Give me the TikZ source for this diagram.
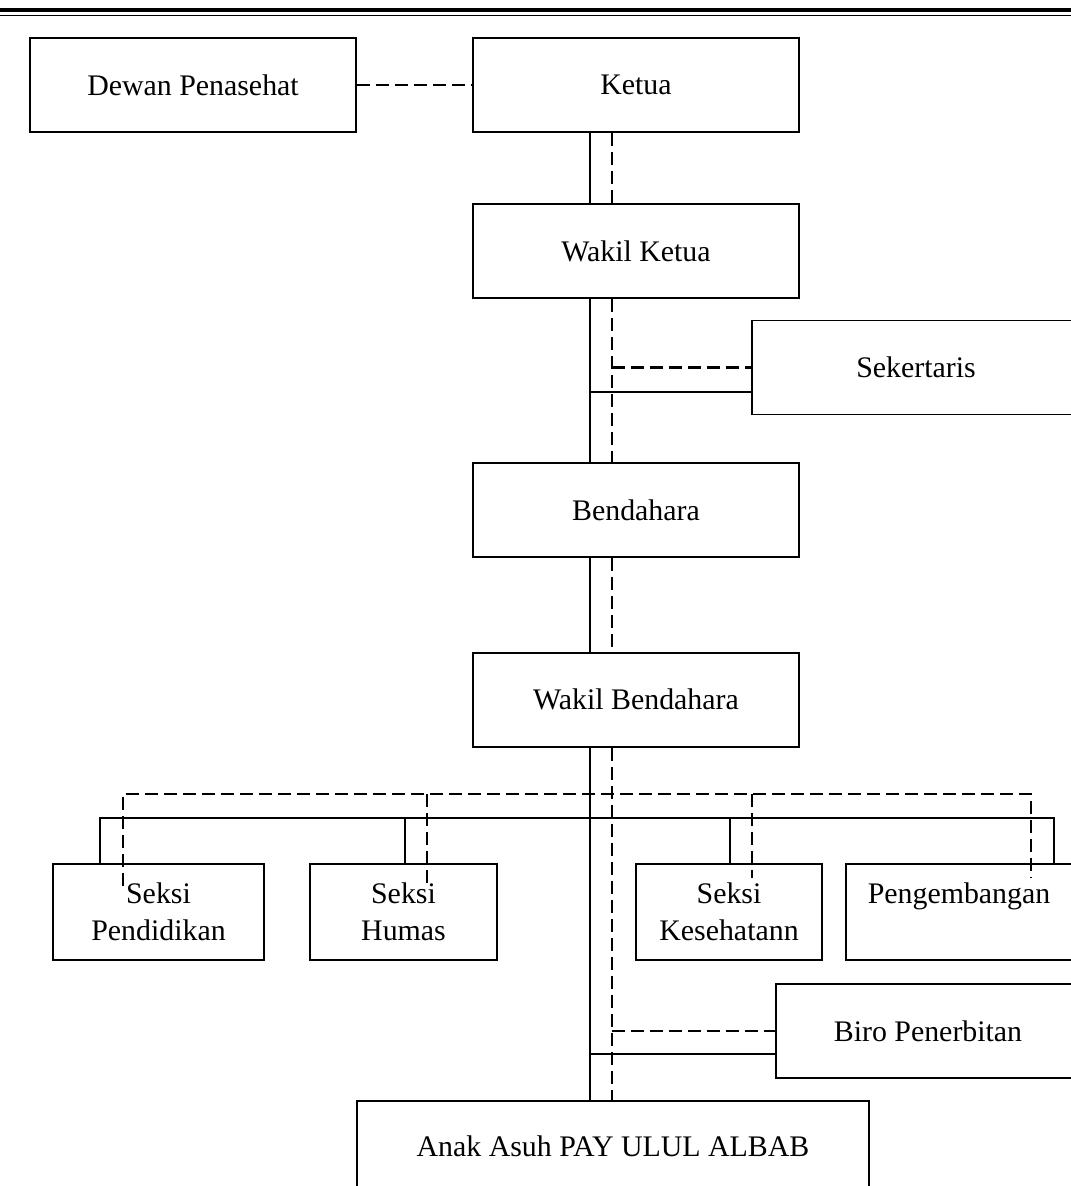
\documentclass[tikz,border=0pt]{standalone}
\usepackage{fontspec}
\setmainfont{Liberation Serif}
\usetikzlibrary{positioning}

\begin{document}
\begin{tikzpicture}[x=0.02cm, y=-0.02cm, node distance={15mm},
		main/.style = {draw, line width=1.1pt, inner sep=0pt, align=center, minimum width=6.52cm, minimum height=1.88cm, font=\fontsize{17}{21}\selectfont},
		sect/.style = {main, minimum height=1.92cm},
		sld/.style = {line width=1.1pt},
		dsh/.style = {line width=1.2pt, dash pattern=on 0.26cm off 0.12cm}]
			\useasboundingbox (0,0) rectangle (1071,1186);
			\clip (0,0) rectangle (1071,1186);
			% double rule on top
			\draw[line width=1.8pt] (0,10) -- (1071,10);
			\draw[line width=1.1pt] (0,15.5) -- (1071,15.5);
			% boxes
			\node[main] (dewan) at (193,85) {Dewan Penasehat};
			\node[main] (ketua) at (636,85) {Ketua};
			\node[main] (wketua) [below=1.40cm of ketua] {Wakil Ketua};
			\node[main, minimum width=6.56cm] (sekr) at (916,367.5) {Sekertaris};
			\node[main] (bendahara) [below=3.26cm of wketua] {Bendahara};
			\node[main] (wbendahara) [below=1.88cm of bendahara] {Wakil Bendahara};
			\node[sect, minimum width=4.22cm] (pend) at (158.5,912) {Seksi\\Pendidikan};
			\node[sect, minimum width=3.74cm] (humas) at (403.5,912) {Seksi\\Humas};
			\node[sect, minimum width=3.72cm] (kes) at (729,912) {Seksi\\Kesehatann};
			\node[sect, minimum width=4.52cm] (peng) at (959,912) {Pengembangan\\\mbox{}};
			\node[main, minimum width=6.08cm] (biro) at (928,1031) {Biro Penerbitan};
			\node[main, minimum width=10.24cm, minimum height=1.8cm] (anak) at (613,1146) {Anak Asuh PAY ULUL ALBAB};
			% spine
			\coordinate (sx) at (590,0);
			\coordinate (dx) at (612,0);
			\draw[dsh] (dewan) -- (ketua);
			\draw[sld] (ketua.south -| sx) -- (wketua.north -| sx);
			\draw[dsh] (ketua.south -| dx) -- (wketua.north -| dx);
			\draw[sld] (wketua.south -| sx) -- (bendahara.north -| sx);
			\draw[dsh] (wketua.south -| dx) -- (bendahara.north -| dx);
			\draw[sld] (bendahara.south -| sx) -- (wbendahara.north -| sx);
			\draw[dsh] (bendahara.south -| dx) -- (wbendahara.north -| dx);
			\draw[sld] (wbendahara.south -| sx) -- (anak.north -| sx);
			\draw[dsh] (wbendahara.south -| dx) -- (anak.north -| dx);
			% sekertaris
			\coordinate (sks) at (590,392);
			\draw[dsh] (sekr.west -| dx) -- (sekr.west);
			\draw[sld] (sks) -- (sks -| sekr.west);
			% seksi buses
			\coordinate (sb1) at (100,818);
			\coordinate (sb2) at (1054,818);
			\coordinate (hs) at (405,818);
			\coordinate (ks) at (730,818);
			\draw[sld] (pend.north -| sb1) -- (sb1) -- (sb2) -- (peng.north -| sb2);
			\draw[sld] (hs) -- (humas.north -| hs);
			\draw[sld] (ks) -- (kes.north -| ks);
			\coordinate (db1) at (123,794);
			\coordinate (db2) at (1031,794);
			\coordinate (hd) at (427,794);
			\coordinate (kd) at (752,794);
			\draw[dsh] (db1) ++(0,92) -- (db1) -- (db2) -- ++(0,84);
			\draw[dsh] (hd) -- ++(0,91);
			\draw[dsh] (kd) -- ++(0,84);
			% biro
			\coordinate (bs) at (590,1054);
			\draw[dsh] (biro.west -| dx) -- (biro.west);
			\draw[sld] (bs) -- (bs -| biro.west);
		\end{tikzpicture}
\end{document}
